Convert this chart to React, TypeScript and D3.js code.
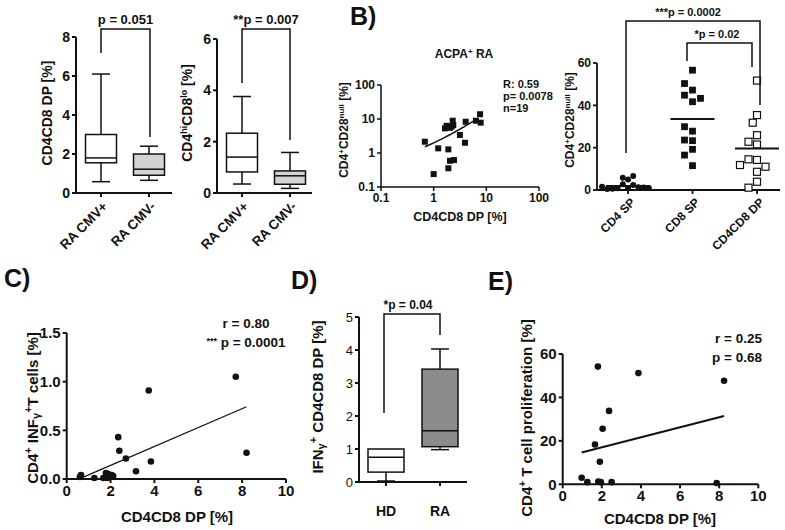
import React from "react";
import * as d3 from "d3";

const FONT = "'Liberation Sans', Arial, Helvetica, sans-serif";
const INK = "#111";

// ---------------- Panel A ----------------
const groupsA = ["RA CMV+", "RA CMV-"];
// five-number summaries: min, q1, median, q3, max
const dpStatsA = [
  [0.58, 1.55, 1.8, 3.0, 6.1],
  [0.65, 0.91, 1.22, 2.0, 2.4],
];
const hiloStatsA = [
  [0.35, 0.82, 1.4, 2.33, 3.76],
  [0.18, 0.34, 0.67, 0.86, 1.58],
];
const ticksA1 = [0, 2, 4, 6, 8];
const ticksA2 = [0, 2, 4, 6];
const pTextA1 = "p = 0.051";
const pTextA2 = "**p = 0.007";

// ---------------- Panel B (left, log-log) ----------------
const bDP = [0.68, 1.0, 1.22, 1.64, 1.76, 1.9, 1.9, 2.04, 2.04, 2.3, 2.36, 2.43, 3.15, 3.93, 4.05, 6.35, 7.6, 7.8, 2.2];
const bNull = [2.15, 0.24, 1.37, 5.3, 6.3, 1.28, 0.355, 5.5, 0.59, 8.9, 6.6, 0.62, 3.4, 2.0, 8.3, 8.9, 13.8, 7.8, 6.0];
const bFit = { intercept: 0.565, slope: 1.42, from: 0.68, to: 7.0 };
const bStats = ["R: 0.59", "p= 0.0078", "n=19"];
const ticksBLog = [0.1, 1, 10, 100];

// ---------------- Panel B (right, scatter by group) ----------------
const groupsB = ["CD4 SP", "CD8 SP", "CD4CD8 DP"];
const cd4spNull = [5.0, 5.8, 6.6, 1.0, 2.7, 2.4, 0.8, 1.3, 0.6, 1.2, 0.5, 0.9, 1.5];
const cd8spNull = [56.6, 47.2, 50.3, 41.7, 44.8, 43.3, 27.8, 29.9, 23.3, 23.6, 19.2, 16.5, 11.5];
const dpNullB = [51.7, 35.4, 31.8, 25.9, 21.5, 22.8, 14.2, 14.5, 11.0, 11.8, 8.6, 3.9, 1.1];
const meansB = [1.9, 33.5, 19.6];
const ticksB2 = [0, 20, 40, 60];

// ---------------- Panel C ----------------
const cDP = [0.6, 0.65, 1.26, 1.67, 1.79, 1.9, 1.97, 2.05, 2.12, 1.85, 2.35, 2.4, 2.7, 3.16, 3.74, 3.84, 7.71, 8.2];
const cIfn = [0.02, 0.04, 0.01, 0.01, 0.06, 0.05, 0.02, 0.04, 0.03, 0.01, 0.43, 0.29, 0.21, 0.08, 0.91, 0.18, 1.05, 0.27];
const cFit = { intercept: -0.055, slope: 0.0972 };
const ticksCx = [0, 2, 4, 6, 8, 10];
const ticksCy = [0, 0.5, 1.0, 1.5];

// ---------------- Panel D ----------------
const groupsD = ["HD", "RA"];
const statsD = [
  [0.03, 0.3, 0.75, 1.0, 1.0],
  [0.98, 1.07, 1.55, 3.42, 4.03],
];
const ticksD = [0, 1, 2, 3, 4, 5];

// ---------------- Panel E ----------------
const eDP = [1.8, 3.87, 8.25, 2.37, 2.04, 1.65, 1.9, 0.97, 1.26, 1.82, 1.95, 2.5, 7.87];
const eProl = [54.2, 51.2, 47.7, 33.8, 25.6, 18.3, 10.4, 3.0, 1.0, 1.3, 1.0, 1.0, 0.6];
const eFit = { intercept: 12.35, slope: 2.32 };
const ticksEx = [0, 2, 4, 6, 8, 10];
const ticksEy = [0, 20, 40, 60];

// ---------------- helpers ----------------
type Scale = (v: any) => number;

function YAxis({ x, scale, y0, y1, ticks, fmt, fs, fw = "bold", sw = 2 }: any) {
  return (
    <g>
      <line x1={x} x2={x} y1={y0} y2={y1} stroke={INK} strokeWidth={sw} />
      {ticks.map((t: number) => (
        <g key={t}>
          <line x1={x - 4} x2={x} y1={scale(t)} y2={scale(t)} stroke={INK} strokeWidth={sw} />
          <text x={x - 6} y={scale(t)} dy="0.35em" textAnchor="end" fontSize={fs} fontWeight={fw} fill={INK}>
            {fmt ? fmt(t) : String(t)}
          </text>
        </g>
      ))}
    </g>
  );
}

function XAxis({ y, scale, x0, x1, ticks, fmt, fs, fw = "bold", sw = 2, labels = true }: any) {
  return (
    <g>
      <line x1={x0} x2={x1} y1={y} y2={y} stroke={INK} strokeWidth={sw} />
      {ticks.map((t: any) => (
        <g key={String(t)}>
          <line x1={scale(t)} x2={scale(t)} y1={y} y2={y + 4} stroke={INK} strokeWidth={sw} />
          {labels && (
            <text x={scale(t)} y={y + 6} dy="0.72em" textAnchor="middle" fontSize={fs} fontWeight={fw} fill={INK}>
              {fmt ? fmt(t) : String(t)}
            </text>
          )}
        </g>
      ))}
    </g>
  );
}

function Box({ cx, w, stats, y, fill, cap = 18 }: any) {
  const [mn, q1, md, q3, mx] = stats;
  return (
    <g stroke={INK} strokeWidth={1.5}>
      <line x1={cx} x2={cx} y1={y(mx)} y2={y(q3)} />
      <line x1={cx} x2={cx} y1={y(q1)} y2={y(mn)} />
      {mx > q3 && <line x1={cx - cap / 2} x2={cx + cap / 2} y1={y(mx)} y2={y(mx)} />}
      {mn < q1 && <line x1={cx - cap / 2} x2={cx + cap / 2} y1={y(mn)} y2={y(mn)} />}
      <rect x={cx - w / 2} y={y(q3)} width={w} height={y(q1) - y(q3)} fill={fill} />
      <line x1={cx - w / 2} x2={cx + w / 2} y1={y(md)} y2={y(md)} />
    </g>
  );
}

function Bracket({ x1, x2, top, l1, l2, text, fs, cx }: any) {
  return (
    <g>
      <path d={`M${x1},${l1}V${top}H${x2}V${l2}`} fill="none" stroke={INK} strokeWidth={1.5} />
      <text x={cx ?? (x1 + x2) / 2} y={top - 5} textAnchor="middle" fontSize={fs} fontWeight="bold" fill={INK}>
        {text}
      </text>
    </g>
  );
}

function swarm(values: number[], y: Scale, cx: number, d: number) {
  const placed: { x: number; y: number }[] = [];
  return values.map((v) => {
    const py = y(v);
    let off = 0;
    for (let k = 0; k < 60; k++) {
      const cand = k === 0 ? 0 : (k % 2 === 1 ? -1 : 1) * Math.ceil(k / 2) * (d / 2);
      if (placed.every((p) => Math.hypot(p.x - (cx + cand), p.y - py) >= d)) {
        off = cand;
        break;
      }
    }
    const pt = { x: cx + off, y: py };
    placed.push(pt);
    return pt;
  });
}

function RotLabel({ x, y, fs, children }: any) {
  return (
    <text transform={`translate(${x},${y}) rotate(-90)`} textAnchor="middle" dy="0.35em" fontSize={fs} fontWeight="bold" fill={INK}>
      {children}
    </text>
  );
}

// ---------------- panels ----------------
function PanelA() {
  const y1 = d3.scaleLinear().domain([0, 8]).range([193, 37]);
  const x1 = d3.scalePoint<string>().domain(groupsA).range([101, 149]);
  const y2 = d3.scaleLinear().domain([0, 6]).range([193, 39]);
  const x2 = d3.scalePoint<string>().domain(groupsA).range([242, 290]);
  const fills = ["#ffffff", "#d3d3d3"];
  return (
    <g>
      <YAxis x={76} scale={y1} y0={y1(8)} y1={y1(0)} ticks={ticksA1} fs={14} />
      <XAxis y={193} scale={x1} x0={76} x1={172} ticks={groupsA} labels={false} />
      {groupsA.map((g, i) => (
        <Box key={g} cx={x1(g)} w={31} stats={dpStatsA[i]} y={y1} fill={fills[i]} />
      ))}
      {groupsA.map((g) => (
        <text key={g} transform={`translate(${(x1(g) as number) + 4},204) rotate(-45)`} textAnchor="end" dy="0.35em" fontSize={13.5} fontWeight="bold" fill={INK}>
          {g}
        </text>
      ))}
      <Bracket x1={101} x2={150} top={29} l1={53} l2={137} text={pTextA1} fs={13} />
      <RotLabel x={47} y={113} fs={14}>CD4CD8 DP [%]</RotLabel>

      <YAxis x={217} scale={y2} y0={y2(6)} y1={y2(0)} ticks={ticksA2} fs={14} />
      <XAxis y={193} scale={x2} x0={217} x1={312} ticks={groupsA} labels={false} />
      {groupsA.map((g, i) => (
        <Box key={g} cx={x2(g)} w={31} stats={hiloStatsA[i]} y={y2} fill={fills[i]} />
      ))}
      {groupsA.map((g) => (
        <text key={g} transform={`translate(${(x2(g) as number) + 4},204) rotate(-45)`} textAnchor="end" dy="0.35em" fontSize={13.5} fontWeight="bold" fill={INK}>
          {g}
        </text>
      ))}
      <Bracket x1={242} x2={290} top={29} l1={83} l2={140} text={pTextA2} fs={13} />
      <RotLabel x={187} y={113} fs={14}>
        CD4<tspan dy={-5} fontSize={9}>hi</tspan>
        <tspan dy={5}>CD8</tspan>
        <tspan dy={-5} fontSize={9}>lo</tspan>
        <tspan dy={5}> [%]</tspan>
      </RotLabel>
    </g>
  );
}

function PanelBLeft() {
  const x = d3.scaleLog().domain([0.1, 100]).range([381, 539]);
  const y = d3.scaleLog().domain([0.1, 100]).range([187, 85]);
  const fitPts = d3.range(0, 41).map((i) => {
    const xv = bFit.from + ((bFit.to - bFit.from) * i) / 40;
    return [x(xv), y(bFit.intercept + bFit.slope * xv)] as [number, number];
  });
  const fmt = (d: number) => (d < 1 ? "0.1" : String(d));
  return (
    <g>
      <text x={464} y={58} textAnchor="middle" fontSize={12} fontWeight="bold" fill={INK}>
        ACPA<tspan dy={-4} fontSize={8}>+</tspan>
        <tspan dy={4}> RA</tspan>
      </text>
      <YAxis x={381} scale={y} y0={85} y1={187} ticks={ticksBLog} fmt={fmt} fs={12} sw={1.5} />
      <XAxis y={187} scale={x} x0={381} x1={539} ticks={ticksBLog} fmt={fmt} fs={12} sw={1.5} />
      <path d={d3.line()(fitPts) as string} fill="none" stroke={INK} strokeWidth={1.5} />
      {bDP.map((v, i) => (
        <rect key={i} x={x(v) - 3} y={y(bNull[i]) - 3} width={6} height={6} fill={INK} />
      ))}
      {bStats.map((s, i) => (
        <text key={s} x={503} y={88 + i * 12} fontSize={11} fontWeight="bold" fill={INK}>
          {s}
        </text>
      ))}
      <text x={460} y={221} textAnchor="middle" fontSize={12.5} fontWeight="bold" fill={INK}>
        CD4CD8 DP [%]
      </text>
      <RotLabel x={344} y={130} fs={12}>
        CD4<tspan dy={-4} fontSize={8}>+</tspan>
        <tspan dy={4}>CD28</tspan>
        <tspan dy={-4} fontSize={8}>null</tspan>
        <tspan dy={4}> [%]</tspan>
      </RotLabel>
    </g>
  );
}

function PanelBRight() {
  const x = d3.scalePoint<string>().domain(groupsB).range([628, 757]);
  const y = d3.scaleLinear().domain([0, 60]).range([190, 63]);
  const c4 = swarm(cd4spNull, y, x("CD4 SP") as number, 5.2);
  const c8 = swarm(cd8spNull, y, x("CD8 SP") as number, 8);
  const dp = swarm(dpNullB, y, x("CD4CD8 DP") as number, 8.5);
  return (
    <g>
      <YAxis x={597} scale={y} y0={63} y1={190} ticks={ticksB2} fs={12} sw={1.8} />
      <XAxis y={190} scale={x} x0={597} x1={780} ticks={groupsB} labels={false} sw={1.8} />
      {groupsB.map((g) => (
        <text key={g} transform={`translate(${(x(g) as number) + 5},200) rotate(-45)`} textAnchor="end" dy="0.35em" fontSize={12} fontWeight="bold" fill={INK}>
          {g}
        </text>
      ))}
      {c4.map((p, i) => (
        <circle key={i} cx={p.x} cy={p.y} r={3} fill={INK} />
      ))}
      {c8.map((p, i) => (
        <rect key={i} x={p.x - 3.4} y={p.y - 3.4} width={6.8} height={6.8} fill={INK} />
      ))}
      {dp.map((p, i) => (
        <rect key={i} x={p.x - 3.5} y={p.y - 3.5} width={7} height={7} fill="#fff" stroke={INK} strokeWidth={1.2} />
      ))}
      {groupsB.map((g, i) => (
        <line key={g} x1={(x(g) as number) - 22} x2={(x(g) as number) + 22} y1={y(meansB[i])} y2={y(meansB[i])} stroke={INK} strokeWidth={2} />
      ))}
      <Bracket x1={626} x2={760} top={21} l1={153} l2={105} text="***p = 0.0002" fs={11} cx={688} />
      <Bracket x1={687} x2={752} top={43} l1={61} l2={67} text="*p = 0.02" fs={11} cx={717} />
      <RotLabel x={570} y={120} fs={12}>
        CD4<tspan dy={-4} fontSize={8}>+</tspan>
        <tspan dy={4}>CD28</tspan>
        <tspan dy={-4} fontSize={8}>null</tspan>
        <tspan dy={4}> [%]</tspan>
      </RotLabel>
    </g>
  );
}

function PanelC() {
  const x = d3.scaleLinear().domain([0, 10]).range([66.7, 286]);
  const y = d3.scaleLinear().domain([0, 1.5]).range([479, 333]);
  const [lo, hi] = d3.extent(cDP) as [number, number];
  return (
    <g>
      <YAxis x={66.7} scale={y} y0={333} y1={479} ticks={ticksCy} fmt={(d: number) => d.toFixed(1)} fs={15} />
      <XAxis y={479} scale={x} x0={66.7} x1={286} ticks={ticksCx} fs={15} />
      <line x1={x(lo)} x2={x(hi)} y1={y(cFit.intercept + cFit.slope * lo)} y2={y(cFit.intercept + cFit.slope * hi)} stroke={INK} strokeWidth={1.3} />
      {cDP.map((v, i) => (
        <circle key={i} cx={x(v)} cy={y(cIfn[i])} r={3.3} fill={INK} />
      ))}
      <text x={246} y={328} textAnchor="middle" fontSize={13.5} fontWeight="bold" fill={INK}>r = 0.80</text>
      <text x={246} y={347} textAnchor="middle" fontSize={13.5} fontWeight="bold" fill={INK}>
        <tspan fontSize={9} dy={-3}>***</tspan>
        <tspan dy={3}> p = 0.0001</tspan>
      </text>
      <text x={177} y={522} textAnchor="middle" fontSize={15} fontWeight="bold" fill={INK}>CD4CD8 DP [%]</text>
      <RotLabel x={33} y={408} fs={15}>
        CD4<tspan dy={-6} fontSize={11}>+</tspan>
        <tspan dy={6}> INF</tspan>
        <tspan dy={2} fontSize={11}>γ</tspan>
        <tspan dy={-8} fontSize={11}>+</tspan>
        <tspan dy={6}>T cells [%]</tspan>
      </RotLabel>
    </g>
  );
}

function PanelD() {
  const x = d3.scalePoint<string>().domain(groupsD).range([386, 440]);
  const y = d3.scaleLinear().domain([0, 5]).range([482, 317]);
  const fills = ["#ffffff", "#8c8c8c"];
  return (
    <g>
      <YAxis x={359} scale={y} y0={317} y1={482} ticks={ticksD} fs={13} fw="normal" />
      <XAxis y={482} scale={x} x0={359} x1={467} ticks={groupsD} labels={false} />
      {groupsD.map((g, i) => (
        <Box key={g} cx={x(g)} w={36} stats={statsD[i]} y={y} fill={fills[i]} />
      ))}
      {groupsD.map((g) => (
        <text key={g} x={x(g)} y={516} textAnchor="middle" fontSize={14} fontWeight="bold" fill={INK}>{g}</text>
      ))}
      <Bracket x1={384} x2={440} top={314} l1={413} l2={335} text="*p = 0.04" fs={12} cx={408} />
      <RotLabel x={318} y={397} fs={15}>
        IFN<tspan dy={2} fontSize={11}>γ</tspan>
        <tspan dy={-8} fontSize={11}>+</tspan>
        <tspan dy={6}> CD4CD8 DP [%]</tspan>
      </RotLabel>
    </g>
  );
}

function PanelE() {
  const x = d3.scaleLinear().domain([0, 10]).range([562.7, 758.3]);
  const y = d3.scaleLinear().domain([0, 60]).range([484.3, 354]);
  const [lo, hi] = d3.extent(eDP) as [number, number];
  return (
    <g>
      <YAxis x={562.7} scale={y} y0={354} y1={484.3} ticks={ticksEy} fs={15} />
      <XAxis y={484.3} scale={x} x0={562.7} x1={758.3} ticks={ticksEx} fs={15} />
      <line x1={x(lo)} x2={x(hi)} y1={y(eFit.intercept + eFit.slope * lo)} y2={y(eFit.intercept + eFit.slope * hi)} stroke={INK} strokeWidth={2} />
      {eDP.map((v, i) => (
        <circle key={i} cx={x(v)} cy={y(eProl[i])} r={3.3} fill={INK} />
      ))}
      <text x={762} y={343} textAnchor="end" fontSize={13.5} fontWeight="bold" fill={INK}>r = 0.25</text>
      <text x={762} y={362} textAnchor="end" fontSize={13.5} fontWeight="bold" fill={INK}>p = 0.68</text>
      <text x={660} y={524} textAnchor="middle" fontSize={15} fontWeight="bold" fill={INK}>CD4CD8 DP [%]</text>
      <RotLabel x={527} y={418} fs={15}>
        CD4<tspan dy={-6} fontSize={10}>+</tspan>
        <tspan dy={6}>  T cell proliferation [%]</tspan>
      </RotLabel>
    </g>
  );
}

export default function App() {
  return (
    <svg width={785} height={530} style={{ position: "absolute", left: 0, top: 0 }} fontFamily={FONT}>
      <rect width={785} height={530} fill="#fff" />
      <PanelA />
      <PanelBLeft />
      <PanelBRight />
      <PanelC />
      <PanelD />
      <PanelE />
      <text x={350} y={25} fontSize={25} fontWeight="bold" fill={INK}>B)</text>
      <text x={4} y={287} fontSize={25} fontWeight="bold" fill={INK}>C)</text>
      <text x={291} y={289} fontSize={25} fontWeight="bold" fill={INK}>D)</text>
      <text x={488} y={290} fontSize={25} fontWeight="bold" fill={INK}>E)</text>
    </svg>
  );
}
